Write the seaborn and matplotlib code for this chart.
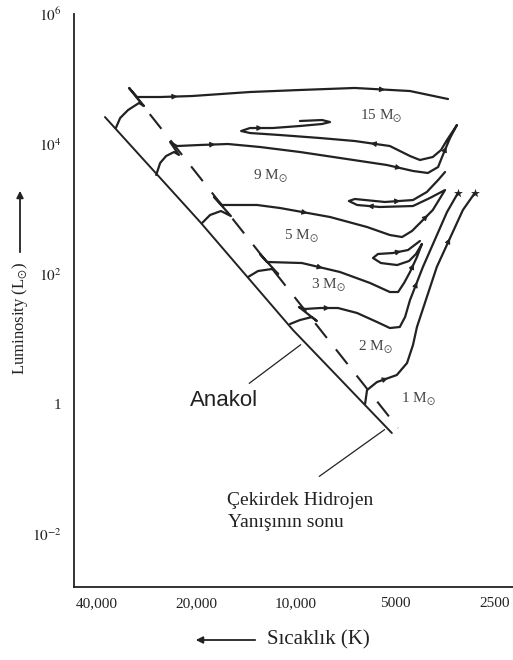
import numpy as np
import pandas as pd
import matplotlib
matplotlib.use("Agg")
import matplotlib.pyplot as plt
import seaborn as sns

# ---------------- data (log10 Teff [K], log10 L [Lsun]) ----------------
zams_logT = [4.578, 4.290, 4.009, 3.710]
zams_logL = [4.415, 2.800, 1.138, -0.446]

tams_logT = [4.505, 3.691]
tams_logL = [4.862, -0.369]

m15_logT = [4.545, 4.532, 4.508, 4.475, 4.460, 4.505, 4.481, 4.411, 4.315, 4.139, 3.988, 3.822, 3.655, 3.540]
m15_logL = [4.246, 4.400, 4.523, 4.631, 4.585, 4.862, 4.723, 4.723, 4.738, 4.800, 4.831, 4.862, 4.815, 4.692]

m9_logT = [4.423, 4.411, 4.393, 4.369, 4.354, 4.381, 4.360, 4.290, 4.206, 4.109, 3.988, 3.867, 3.725,
           3.646, 3.601, 3.570, 3.558, 3.534, 3.513, 3.543, 3.561, 3.586, 3.625, 3.655, 3.716, 3.822,
           3.927, 4.048, 4.139, 4.166, 4.139, 4.070, 3.988, 3.921, 3.897, 3.921, 3.988]
m9_logL = [3.523, 3.708, 3.815, 3.877, 3.831, 4.031, 3.969, 3.985, 4.000, 3.954, 3.877, 3.785, 3.677,
           3.585, 3.554, 3.646, 3.800, 4.092, 4.292, 4.062, 3.908, 3.800, 3.754, 3.815, 3.969, 4.046,
           4.092, 4.138, 4.169, 4.200, 4.246, 4.246, 4.277, 4.308, 4.338, 4.369, 4.354]

m5_logT = [4.284, 4.260, 4.227, 4.197, 4.248, 4.224, 4.118, 4.048, 3.897, 3.785, 3.716, 3.679, 3.649,
           3.619, 3.586, 3.549, 3.595, 3.646, 3.746, 3.815, 3.840, 3.822, 3.731, 3.646, 3.604, 3.570, 3.549]
m5_logL = [2.785, 2.908, 2.969, 2.892, 3.185, 3.062, 3.062, 3.015, 2.877, 2.723, 2.600, 2.569, 2.662,
           2.815, 2.985, 3.292, 3.169, 3.046, 3.031, 3.062, 3.123, 3.154, 3.108, 3.138, 3.262, 3.446, 3.569]

m3_logT = [4.145, 4.115, 4.073, 4.054, 4.109, 4.088, 3.982, 3.867, 3.776, 3.716, 3.691, 3.673, 3.655,
           3.634, 3.619, 3.637, 3.658, 3.694, 3.743, 3.767, 3.752, 3.707, 3.661, 3.625]
m3_logL = [1.954, 2.046, 2.077, 2.000, 2.308, 2.185, 2.169, 2.031, 1.862, 1.723, 1.723, 1.862, 2.031,
           2.262, 2.462, 2.308, 2.200, 2.138, 2.169, 2.246, 2.308, 2.323, 2.369, 2.508]

m2_logT = [4.018, 3.988, 3.952, 3.937, 3.991, 3.973, 3.927, 3.873, 3.815, 3.755, 3.716, 3.686, 3.670,
           3.655, 3.616, 3.543, 3.510]
m2_logL = [1.231, 1.292, 1.338, 1.277, 1.492, 1.462, 1.477, 1.477, 1.400, 1.262, 1.169, 1.185, 1.338,
           1.600, 2.108, 2.954, 3.246]

m1_logT = [3.791, 3.785, 3.755, 3.695, 3.664, 3.646, 3.634, 3.574, 3.495, 3.459]
m1_logL = [0.000, 0.215, 0.338, 0.446, 0.631, 0.908, 1.185, 2.108, 2.985, 3.246]

mass_labels = ["15 M$_{\\odot}$", "9 M$_{\\odot}$", "5 M$_{\\odot}$", "3 M$_{\\odot}$", "2 M$_{\\odot}$", "1 M$_{\\odot}$"]

x_ticks = [40000, 20000, 10000, 5000, 2500]
x_ticklabels = ["40,000", "20,000", "10,000", "5000", "2500"]
y_ticks = [1e-2, 1, 1e2, 1e4, 1e6]
y_ticklabels = ["$10^{-2}$", "1", "$10^{2}$", "$10^{4}$", "$10^{6}$"]

# ---------------- build frames ----------------
tracks = {"15": (m15_logT, m15_logL), "9": (m9_logT, m9_logL), "5": (m5_logT, m5_logL),
          "3": (m3_logT, m3_logL), "2": (m2_logT, m2_logL), "1": (m1_logT, m1_logL)}
rows = []
for name, (lt, ll) in tracks.items():
    for i, (a, b) in enumerate(zip(lt, ll)):
        rows.append({"track": name, "i": i, "T": 10 ** a, "L": 10 ** b})
df = pd.DataFrame(rows)
zams = pd.DataFrame({"T": 10 ** np.array(zams_logT), "L": 10 ** np.array(zams_logL)})
tams = pd.DataFrame({"T": 10 ** np.array(tams_logT), "L": 10 ** np.array(tams_logL)})

sns.set_theme(style="white")
plt.rcParams["font.family"] = ["Liberation Serif", "DejaVu Serif"]
plt.rcParams["mathtext.fontset"] = "stix"

W, H = 513, 660
fig = plt.figure(figsize=(W / 100, H / 100), dpi=100)
ax = fig.add_axes([74 / W, 73 / H, 1 - 74 / W, (587 - 14) / H])
ax.set_xscale("log")
ax.set_yscale("log")

ink = "#222222"
sns.lineplot(data=df, x="T", y="L", units="track", estimator=None, sort=False,
             color=ink, lw=1.6, ax=ax)
sns.lineplot(data=zams, x="T", y="L", estimator=None, sort=False, color=ink, lw=1.4, ax=ax)
sns.lineplot(data=tams, x="T", y="L", estimator=None, sort=False, color=ink, lw=1.5,
             linestyle=(0, (9, 7)), ax=ax)

# helium-flash stars at tops of 1 and 2 Msun tracks
tops = df[df["track"].isin(["1", "2"])].groupby("track").tail(1)
sns.scatterplot(data=tops, x="T", y="L", marker="*", s=45, color=ink, linewidth=0, ax=ax, zorder=5)

# direction arrowheads along the tracks (segment indices)
arrow_segs = {"15": [7, 11], "9": [7, 12, 16, 24, 30], "5": [7, 13, 18, 22],
              "3": [6, 12, 21], "2": [6, 13], "1": [2, 7]}
for name, segs in arrow_segs.items():
    lt, ll = tracks[name]
    for s in segs:
        x0, y0 = lt[s], ll[s]
        x1, y1 = lt[s + 1], ll[s + 1]
        xm, ym = x0 + 0.55 * (x1 - x0), y0 + 0.55 * (y1 - y0)
        xs, ys = x0 + 0.45 * (x1 - x0), y0 + 0.45 * (y1 - y0)
        ax.annotate("", xy=(10 ** xm, 10 ** ym), xytext=(10 ** xs, 10 ** ys),
                    arrowprops=dict(arrowstyle="-|>", color=ink, lw=0.8, mutation_scale=8))

ax.set_xlim(46950, 2205)
ax.set_ylim(10 ** -2.815, 1e6)
ax.set_xticks(x_ticks)
ax.set_xticklabels(x_ticklabels)
ax.set_yticks(y_ticks)
ax.set_yticklabels(y_ticklabels)
ax.minorticks_off()
ax.tick_params(axis="both", direction="in", length=13.5, width=1.2, color=ink, labelcolor=ink)
ax.tick_params(axis="x", labelsize=11, pad=7)
ax.tick_params(axis="y", labelsize=11, pad=9)
for sp in ["top", "right"]:
    ax.spines[sp].set_visible(False)
for sp in ["left", "bottom"]:
    ax.spines[sp].set_color(ink)
    ax.spines[sp].set_linewidth(1.3)
ax.set_xlabel("")
ax.set_ylabel("")
ax.patch.set_alpha(0)


def ftxt(px, py, s, **kw):
    return fig.text(px / W, 1 - py / H, s, color=kw.pop("color", ink), **kw)


label_pos = [(381, 116), (270, 176), (301, 236), (328, 285), (375, 347), (418, 399)]
for (px, py), s in zip(label_pos, mass_labels):
    ftxt(px, py, s, ha="center", va="center", fontsize=11, color="#444444")

ftxt(190, 400, "Anakol", ha="left", va="center", fontsize=16, family=["Liberation Sans"])
ftxt(227, 505, "Çekirdek Hidrojen", ha="left", va="baseline", fontsize=14)
ftxt(228, 527, "Yanışının sonu", ha="left", va="baseline", fontsize=14)
ftxt(267, 640, "Sıcaklık (K)", ha="left", va="center", fontsize=15)
ftxt(20, 318, "Luminosity (L$_{\\odot}$)", ha="center", va="center", rotation=90, fontsize=12)

# leader lines
ax.annotate("", xy=(10 ** 3.979, 10 ** 0.938), xytext=(247, H - 385), textcoords="figure pixels",
            arrowprops=dict(arrowstyle="-", color=ink, lw=0.9))
ax.annotate("", xy=(10 ** 3.725, 10 ** -0.369), xytext=(317, H - 478), textcoords="figure pixels",
            arrowprops=dict(arrowstyle="-", color=ink, lw=0.9))
# axis-label arrows
ax.annotate("", xy=(193, H - 640), xytext=(258, H - 640), xycoords="figure pixels",
            textcoords="figure pixels", annotation_clip=False,
            arrowprops=dict(arrowstyle="-|>", color=ink, lw=1.3, mutation_scale=10))
ax.annotate("", xy=(20, H - 188), xytext=(20, H - 255), xycoords="figure pixels",
            textcoords="figure pixels", annotation_clip=False,
            arrowprops=dict(arrowstyle="-|>", color=ink, lw=1.3, mutation_scale=10))

fig.savefig("out.png", dpi=100)
